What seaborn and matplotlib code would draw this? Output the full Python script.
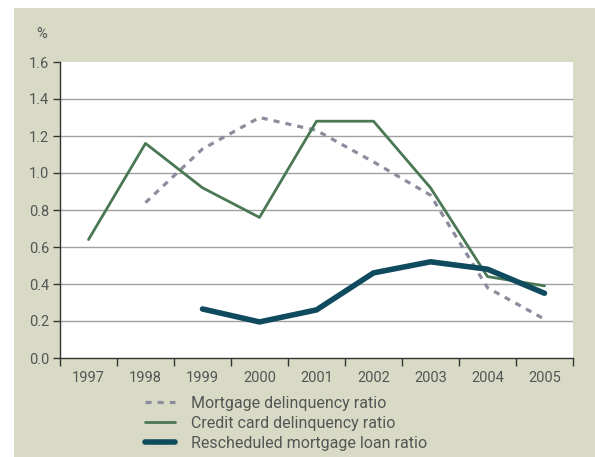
import numpy as np
import pandas as pd
import matplotlib as mpl
import matplotlib.pyplot as plt
from matplotlib.patches import Rectangle
from matplotlib.ticker import FixedLocator
import seaborn as sns

years = [1997, 1998, 1999, 2000, 2001, 2002, 2003, 2004, 2005]
mortgage = [np.nan, 0.84, 1.13, 1.30, 1.23, 1.06, 0.88, 0.38, 0.21]
credit_card = [0.64, 1.16, 0.92, 0.76, 1.28, 1.28, 0.92, 0.44, 0.39]
rescheduled = [np.nan, np.nan, 0.265, 0.195, 0.26, 0.46, 0.52, 0.48, 0.35]
y_ticks = [0.0, 0.2, 0.4, 0.6, 0.8, 1.0, 1.2, 1.4, 1.6]

labels = ["Mortgage delinquency ratio",
          "Credit card delinquency ratio",
          "Rescheduled mortgage loan ratio"]

BEIGE = "#d9dac6"
TEXT = "#555555"
AXIS = "#333333"
GREEN = "#4b7854"
TEAL = "#0f4a5e"
GREY = "#8c8c9c"

sns.set_style("white")
plt.rcParams["font.family"] = ["Roboto", "DejaVu Sans"]

df = pd.DataFrame({"year": years, "mortgage": mortgage,
                   "credit": credit_card, "resched": rescheduled})

fig = plt.figure(figsize=(5.95, 4.57), dpi=100)
fig.patch.set_facecolor("white")
# beige panel behind everything (white strip at top and left)
fig.patches.append(Rectangle((14 / 595, 0), 1 - 14 / 595, 1 - 8 / 457,
                             transform=fig.transFigure, facecolor=BEIGE,
                             edgecolor="none", zorder=-10))

ax = fig.add_axes([60 / 595, 1 - 358 / 457, 513 / 595, 296 / 457])
ax.set_facecolor("white")

for v in y_ticks[1:-1]:
    ax.axhline(v, color="#a0a0a0", lw=1.0, zorder=1)

sns.lineplot(data=df, x="year", y="mortgage", ax=ax, color=GREY, lw=2.3,
             zorder=3, label=labels[0]).lines[-1].set_dashes((1.9, 1.9))
sns.lineplot(data=df, x="year", y="credit", ax=ax, color=GREEN, lw=2.0,
             zorder=4, label=labels[1])
sns.lineplot(data=df, x="year", y="resched", ax=ax, color=TEAL, lw=4.0,
             zorder=5, label=labels[2])
ax.get_legend().remove()

ax.set_xlim(years[0] - 0.5, years[-1] + 0.5)
ax.set_ylim(0, 1.6)
ax.set_xlabel("")
ax.set_ylabel("")

# labels centred on years, tick marks on the boundaries
ax.set_xticks(years)
ax.set_xticklabels([str(y) for y in years])
ax.xaxis.set_minor_locator(FixedLocator([y - 0.5 for y in years] + [years[-1] + 0.5]))
ax.tick_params(axis="x", which="major", length=0, pad=9, labelsize=10.5, labelcolor=TEXT)
ax.tick_params(axis="x", which="minor", length=6, width=1, color=AXIS, direction="out",
               bottom=True)
ax.set_yticks(y_ticks)
ax.set_yticklabels([f"{v:.1f}" for v in y_ticks])
ax.tick_params(axis="y", length=5, width=1, color=AXIS, direction="out", left=True,
               labelsize=10.5, labelcolor=TEXT, pad=3)

for side in ["top", "right"]:
    ax.spines[side].set_visible(False)
for side in ["left", "bottom"]:
    ax.spines[side].set_color(AXIS)
    ax.spines[side].set_linewidth(1.0)

fig.text(42 / 595, 1 - 34 / 457, "%", fontsize=10.5, color=TEXT, ha="center", va="center")

handles = [h for h in ax.get_lines() if h.get_label() in labels]
fig.legend(handles=handles, labels=labels, loc="upper left",
           bbox_to_anchor=(145 / 595, 1 - 396 / 457), frameon=False,
           fontsize=11.5, labelcolor=TEXT, handlelength=1.9, handletextpad=1.0,
           labelspacing=0.3, borderpad=0, borderaxespad=0)

fig.savefig("out.png", dpi=100, facecolor=fig.get_facecolor())
